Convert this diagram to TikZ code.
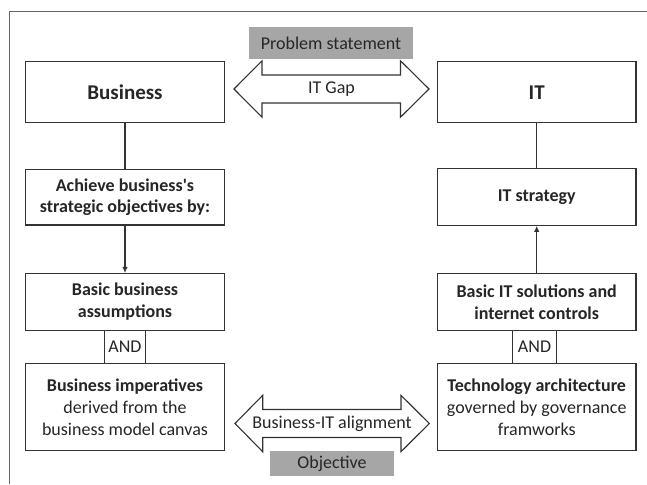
\documentclass[tikz,border=0pt]{standalone}
\usepackage{fontspec}
\setmainfont{Carlito}[Ligatures=TeXOff]
\usetikzlibrary{arrows.meta}
\definecolor{linec}{HTML}{333333}
\definecolor{textc}{HTML}{262626}
\definecolor{framec}{HTML}{666666}
\definecolor{graybg}{HTML}{A6A6A6}
\tikzset{
  box/.style={draw=linec, line width=1.1pt, fill=white, align=center, text=textc,
    inner sep=2pt, minimum width=198.5pt, font=\fontsize{18}{21.7}\selectfont\bfseries},
  titlebox/.style={box, font=\fontsize{21}{25}\selectfont\bfseries},
  plainbox/.style={box, font=\fontsize{18}{21.7}\selectfont},
  andbox/.style={draw=linec, line width=1.1pt, fill=white, text=textc, inner sep=1pt,
    minimum height=32.6pt, font=\fontsize{18}{21.7}\selectfont},
  graylabel/.style={fill=graybg, text=textc, inner sep=0pt, font=\fontsize{18}{21.7}\selectfont},
  arrowtext/.style={text=textc, inner sep=1pt, font=\fontsize{18}{21.7}\selectfont},
  bigarrow/.style={draw=linec, line width=1.1pt, fill=white, line join=miter},
  conn/.style={draw=linec, line width=1.1pt},
  tipped/.style={conn, -{Latex[length=6pt,width=5.5pt]}}
}
\begin{document}
\begin{tikzpicture}[x=1pt,y=-1pt]
\useasboundingbox (0,0) rectangle (647,484);
% outer frame (partial)
\draw[framec, line width=1pt] (9.7,484) -- (9.7,11.7) -- (647,11.7);

% top double arrow (IT Gap)
\path[bigarrow] (234,89) -- (262,60.8) -- (262,75) -- (400.5,75) -- (400.5,60.8) -- (429,89)
  -- (400.5,117.2) -- (400.5,103) -- (262,103) -- (262,117.2) -- cycle;
\node[arrowtext] (gap) at (331.5,89) {IT Gap};

% bottom double arrow (Business-IT alignment)
\path[bigarrow] (235,423.5) -- (262.7,395.3) -- (262.7,409.5) -- (401,409.5) -- (401,395.3) -- (429.3,423.5)
  -- (401,451.7) -- (401,437.5) -- (262.7,437.5) -- (262.7,451.7) -- cycle;
\node[arrowtext] (align) at (332,423.5) {Business-IT alignment};

% gray labels
\node[graylabel, minimum width=163.4pt, minimum height=31.4pt] (ps) at (331,43) {Problem statement};
\node[graylabel, minimum width=124pt, minimum height=24.7pt] (obj) at (332,463.4) {Objective};

% left column
\node[titlebox, minimum height=61pt] (bus) at (125,92.2) {Business};
\node[box, minimum height=55.3pt] (ach) at (125,197.3) {Achieve business's\\strategic objectives by:};
\node[box, minimum height=56.9pt] (bba) at (125,301.9) {Basic business\\assumptions};
\node[andbox, minimum width=41.5pt] (and1) at (125,347) {AND};
\node[plainbox, minimum height=87pt] (bim) at (125,407.1) {\textbf{Business imperatives}\\derived from the\\business model canvas};

% right column
\node[titlebox, minimum height=61pt] (it) at (536.7,92.2) {IT};
\node[box, minimum height=56.5pt] (its) at (536.7,197.1) {IT strategy};
\node[box, minimum height=56.9pt] (bit) at (536.7,301.9) {Basic IT solutions and\\internet controls};
\node[andbox, minimum width=43.5pt] (and2) at (534.5,347) {AND};
\node[plainbox, minimum height=87pt] (tec) at (536.7,407.1) {\textbf{Technology architecture}\\governed by governance\\framworks};

% connectors
\draw[conn] (bus.south) -- (ach.north);
\draw[tipped] (ach.south) -- (bba.north);
\draw[conn] (it.south) -- (its.north);
\draw[tipped] (bit.north) -- (its.south);
\end{tikzpicture}
\end{document}
